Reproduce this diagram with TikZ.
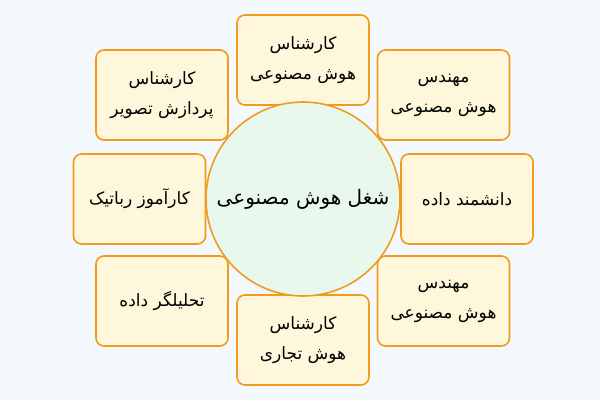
\documentclass[tikz,border=0pt]{standalone}
\usepackage{fontspec}
\usepackage{tikz}
\usetikzlibrary{positioning}
\TeXXeTstate=1
\newfontfamily\farsifont[Script=Arabic]{DejaVu Sans}
\definecolor{bgblue}{HTML}{F3F8FD}
\definecolor{boxfill}{HTML}{FEF7DB}
\definecolor{edgeorange}{HTML}{F29A1F}
\definecolor{circfill}{HTML}{E8F8EC}
\tikzset{
  job/.style={draw=edgeorange,fill=boxfill,line width=1.6pt,rounded corners=8pt,
    minimum width=132pt,minimum height=90pt,align=center,
    font=\farsifont\fontsize{17}{30}\selectfont},
  hub/.style={draw=edgeorange,fill=circfill,line width=1.6pt,circle,
    minimum size=194pt,font=\farsifont\fontsize{20}{24}\selectfont}
}
\begin{document}
\begin{tikzpicture}[node distance=140pt,on grid]
\useasboundingbox[fill=bgblue] (0,0) rectangle (600pt,-400pt);
\coordinate (c) at (303pt,-199pt);
\node[job] (top) [above = 139pt of c,anchor=center] {\beginR کارشناس\endR\\\beginR هوش مصنوعی\endR};
\node[job] (topleft) [above left = 104pt and 141pt of c,anchor=center] {\beginR کارشناس\endR\\\beginR پردازش تصویر\endR};
\node[job] (left) [left = 163.5pt of c,anchor=center] {\beginR کارآموز رباتیک\endR};
\node[job] (topright) [above right = 104pt and 140.5pt of c,anchor=center] {\beginR مهندس\endR\\\beginR هوش مصنوعی\endR};
\node[job] (right) [right = 164pt of c,anchor=center] {\beginR دانشمند داده\endR};
\node[job] (botright) [below right = 102pt and 140.5pt of c,anchor=center] {\beginR مهندس\endR\\\beginR هوش مصنوعی\endR};
\node[job] (botleft) [below left = 102pt and 141pt of c,anchor=center] {\beginR تحلیلگر داده\endR};
\node[job] (bottom) [below = 141pt of c,anchor=center] {\beginR کارشناس\endR\\\beginR هوش تجاری\endR};
\node[hub] (ai) at (c) {\beginR شغل هوش مصنوعی\endR};
\end{tikzpicture}
\end{document}
